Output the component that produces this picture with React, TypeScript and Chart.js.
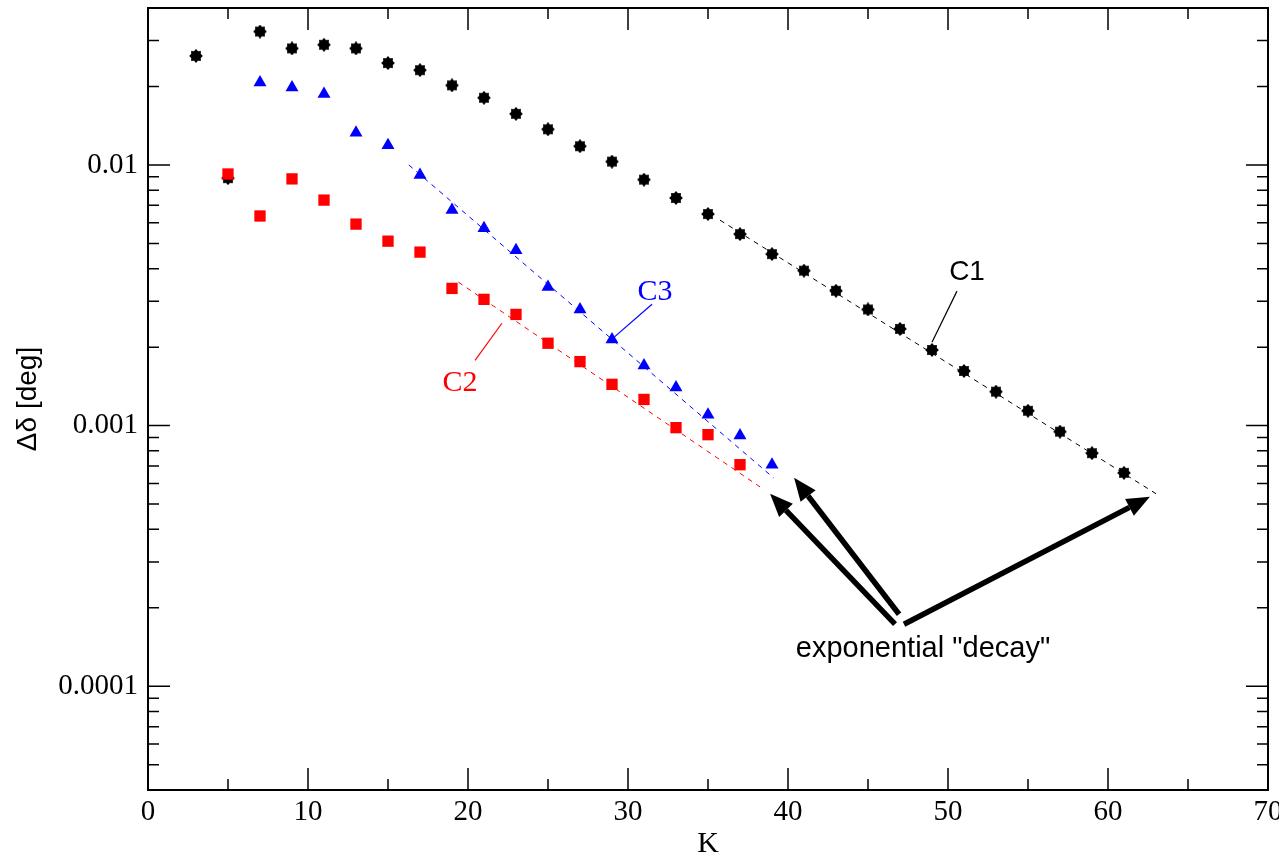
import React, { useEffect, useRef } from 'react';
import { Chart, registerables } from 'chart.js';

Chart.register(...registerables);

// ---------- data ----------
const c1K = [3, 5, 7, 9, 11, 13, 15, 17, 19, 21, 23, 25, 27, 29, 31, 33, 35, 37, 39, 41, 43, 45, 47, 49, 51, 53, 55, 57, 59, 61];
const c1Values = [0.0262, 0.0089, 0.0325, 0.0280, 0.0289, 0.0280, 0.0246, 0.0231, 0.0202, 0.0181, 0.0157, 0.0137, 0.0118, 0.0103, 0.00878, 0.00747, 0.00648, 0.00543, 0.00455, 0.00393, 0.00329, 0.00279, 0.00235, 0.00195, 0.00162, 0.00135, 0.00114, 0.000948, 0.000784, 0.000659];

const c3K = [7, 9, 11, 13, 15, 17, 19, 21, 23, 25, 27, 29, 31, 33, 35, 37, 39];
const c3Values = [0.0207, 0.0198, 0.0187, 0.0133, 0.0119, 0.00915, 0.00672, 0.00572, 0.00471, 0.0034, 0.00279, 0.00214, 0.0017, 0.0014, 0.0011, 0.000916, 0.000708];

const c2K = [5, 7, 9, 11, 13, 15, 17, 19, 21, 23, 25, 27, 29, 31, 33, 35, 37];
const c2Values = [0.00923, 0.00637, 0.00884, 0.00733, 0.00593, 0.0051, 0.00463, 0.00336, 0.00305, 0.00267, 0.00207, 0.00176, 0.00144, 0.00126, 0.000982, 0.000923, 0.000708];

// exponential fits (straight on the log axis)
const fitC1K = [35.75, 63];
const fitC1Values = [0.00614, 0.000548];
const fitC3K = [16.3, 39.1];
const fitC3Values = [0.01, 0.00063];
const fitC2K = [19.4, 38.25];
const fitC2Values = [0.00355, 0.000582];

// ticks
const xTickValues = [0, 10, 20, 30, 40, 50, 60, 70];
const xMinorTickValues = [5, 15, 25, 35, 45, 55, 65];
const yTickValues = [0.0001, 0.001, 0.01];
const yTickLabels = ['0.0001', '0.001', '0.01'];
const yMinorMantissas = [2, 3, 4, 5, 6, 7, 8, 9];
const yDecades = [-5, -4, -3, -2];

// annotations (data coordinates)
const labelTexts = ['C1', 'C2', 'C3', 'exponential "decay"'];
const labelK = [51.19, 19.5, 31.69, 48.44];
const labelV = [0.00388, 0.00146, 0.00325, 0.000139];
const labelColors = ['#000000', '#ff0000', '#0000ff', '#000000'];
const labelFonts = ['28px "Liberation Sans"', '30px "Liberation Serif"', '30px "Liberation Serif"', '29px "Liberation Sans"'];

const leaderFromK = [50.56, 20.44, 31.5];
const leaderFromV = [0.00328, 0.00178, 0.00292];
const leaderToK = [49.0, 22.12, 29.12];
const leaderToV = [0.00209, 0.00247, 0.00218];
const leaderColors = ['#000000', '#ff0000', '#0000ff'];

const arrowFromK = [46.69, 46.94, 47.25];
const arrowFromV = [0.000173, 0.000189, 0.000173];
const arrowToK = [38.88, 40.38, 62.62];
const arrowToV = [0.000548, 0.000631, 0.000533];

function makeStar(): HTMLCanvasElement {
  const c = document.createElement('canvas');
  c.width = 14;
  c.height = 14;
  const g = c.getContext('2d')!;
  g.fillStyle = '#000';
  g.beginPath();
  for (let i = 0; i < 16; i++) {
    const r = i % 2 === 0 ? 6.9 : 5.2;
    const a = (i * Math.PI) / 8;
    const px = 7 + r * Math.cos(a);
    const py = 7 + r * Math.sin(a);
    if (i === 0) g.moveTo(px, py);
    else g.lineTo(px, py);
  }
  g.closePath();
  g.fill();
  return c;
}

const framePlugin = {
  id: 'framePlugin',
  afterDatasetsDraw(chart: any) {
    const { ctx, chartArea: a, scales } = chart;
    const x = scales.x;
    const y = scales.y;
    ctx.save();
    ctx.strokeStyle = '#000';
    ctx.lineWidth = 2;
    ctx.strokeRect(a.left, a.top, a.right - a.left, a.bottom - a.top);

    ctx.lineWidth = 1.5;
    const vline = (px: number, len: number) => {
      ctx.beginPath();
      ctx.moveTo(px, a.bottom);
      ctx.lineTo(px, a.bottom - len);
      ctx.moveTo(px, a.top);
      ctx.lineTo(px, a.top + len);
      ctx.stroke();
    };
    const hline = (py: number, len: number) => {
      ctx.beginPath();
      ctx.moveTo(a.left, py);
      ctx.lineTo(a.left + len, py);
      ctx.moveTo(a.right, py);
      ctx.lineTo(a.right - len, py);
      ctx.stroke();
    };
    xTickValues.forEach((v) => vline(x.getPixelForValue(v), 22));
    xMinorTickValues.forEach((v) => vline(x.getPixelForValue(v), 11));
    yTickValues.forEach((v) => hline(y.getPixelForValue(v), 22));
    yDecades.forEach((e) => {
      yMinorMantissas.forEach((m) => {
        const v = m * Math.pow(10, e);
        if (v > y.min * 1.0001 && v < y.max * 0.9999) hline(y.getPixelForValue(v), 11);
      });
    });

    // leader lines
    ctx.lineWidth = 1.2;
    leaderFromK.forEach((k, i) => {
      ctx.strokeStyle = leaderColors[i];
      ctx.beginPath();
      ctx.moveTo(x.getPixelForValue(k), y.getPixelForValue(leaderFromV[i]));
      ctx.lineTo(x.getPixelForValue(leaderToK[i]), y.getPixelForValue(leaderToV[i]));
      ctx.stroke();
    });

    // arrows
    ctx.strokeStyle = '#000';
    ctx.fillStyle = '#000';
    arrowFromK.forEach((k, i) => {
      const x0 = x.getPixelForValue(k);
      const y0 = y.getPixelForValue(arrowFromV[i]);
      const x1 = x.getPixelForValue(arrowToK[i]);
      const y1 = y.getPixelForValue(arrowToV[i]);
      const ang = Math.atan2(y1 - y0, x1 - x0);
      const headLen = 23;
      const headW = 9.5;
      const bx = x1 - headLen * Math.cos(ang);
      const by = y1 - headLen * Math.sin(ang);
      ctx.lineWidth = 5.5;
      ctx.beginPath();
      ctx.moveTo(x0, y0);
      ctx.lineTo(bx, by);
      ctx.stroke();
      ctx.beginPath();
      ctx.moveTo(x1, y1);
      ctx.lineTo(bx + headW * Math.sin(ang), by - headW * Math.cos(ang));
      ctx.lineTo(bx - headW * Math.sin(ang), by + headW * Math.cos(ang));
      ctx.closePath();
      ctx.fill();
    });

    // labels
    ctx.textAlign = 'center';
    ctx.textBaseline = 'middle';
    labelTexts.forEach((t, i) => {
      ctx.fillStyle = labelColors[i];
      ctx.font = labelFonts[i];
      ctx.fillText(t, x.getPixelForValue(labelK[i]), y.getPixelForValue(labelV[i]));
    });
    ctx.restore();
  },
};

const toPoints = (xs: number[], ys: number[]) => xs.map((v, i) => ({ x: v, y: ys[i] }));

export default function App() {
  const ref = useRef<HTMLCanvasElement | null>(null);

  useEffect(() => {
    if (!ref.current) return;
    const star = makeStar();
    const chart = new Chart(ref.current, {
      type: 'scatter',
      data: {
        datasets: [
          {
            label: 'C2',
            data: toPoints(c2K, c2Values),
            pointStyle: 'rect',
            pointRadius: 8,
            pointBackgroundColor: '#ff0000',
            pointBorderWidth: 0,
            borderColor: '#ff0000',
            order: 0,
          },
          {
            label: 'C3',
            data: toPoints(c3K, c3Values),
            pointStyle: 'triangle',
            pointRadius: 7.5,
            pointBackgroundColor: '#0000ff',
            pointBorderWidth: 0,
            borderColor: '#0000ff',
            order: 1,
          },
          {
            label: 'C1',
            data: toPoints(c1K, c1Values),
            pointStyle: star as any,
            pointRadius: 6,
            pointBackgroundColor: '#000',
            borderColor: '#000',
            order: 2,
          },
          {
            label: 'fit C1',
            data: toPoints(fitC1K, fitC1Values),
            showLine: true,
            pointRadius: 0,
            borderColor: '#000000',
            borderWidth: 1,
            borderDash: [5, 5],
            order: 3,
          },
          {
            label: 'fit C3',
            data: toPoints(fitC3K, fitC3Values),
            showLine: true,
            pointRadius: 0,
            borderColor: '#0000ff',
            borderWidth: 1,
            borderDash: [5, 5],
            order: 3,
          },
          {
            label: 'fit C2',
            data: toPoints(fitC2K, fitC2Values),
            showLine: true,
            pointRadius: 0,
            borderColor: '#ff0000',
            borderWidth: 1,
            borderDash: [5, 5],
            order: 3,
          },
        ],
      },
      options: {
        animation: false,
        responsive: false,
        devicePixelRatio: 1,
        layout: { padding: { top: 8, right: 11, left: 0, bottom: 0 } },
        plugins: { legend: { display: false }, tooltip: { enabled: false } },
        scales: {
          x: {
            type: 'linear',
            min: 0,
            max: 70,
            afterFit: (s: any) => {
              s.height = 69;
              s.paddingLeft = 0;
              s.paddingRight = 0;
              s.paddingTop = 0;
              s.paddingBottom = 0;
            },
            afterBuildTicks: (s: any) => {
              s.ticks = xTickValues.map((v) => ({ value: v }));
            },
            grid: { display: false, drawTicks: false },
            border: { display: false },
            ticks: {
              color: '#000',
              font: { family: 'Liberation Serif', size: 29 },
              padding: 5,
              maxRotation: 0,
              autoSkip: false,
              callback: (v: any) => String(v),
            },
            title: {
              display: true,
              text: 'K',
              color: '#000',
              font: { family: 'Liberation Serif', size: 30, lineHeight: 1 },
              padding: { top: 0, bottom: 0 },
            },
          },
          y: {
            type: 'logarithmic',
            min: 4e-5,
            max: 0.04,
            afterFit: (s: any) => {
              s.width = 148;
              s.paddingLeft = 0;
              s.paddingRight = 0;
              s.paddingTop = 0;
              s.paddingBottom = 0;
            },
            afterBuildTicks: (s: any) => {
              s.ticks = yTickValues.map((v) => ({ value: v }));
            },
            grid: { display: false, drawTicks: false },
            border: { display: false },
            ticks: {
              color: '#000',
              font: { family: 'Liberation Serif', size: 29 },
              padding: 10,
              autoSkip: false,
              callback: (v: any) => {
                const idx = yTickValues.findIndex((t) => Math.abs(t - v) / t < 1e-6);
                return idx >= 0 ? yTickLabels[idx] : '';
              },
            },
            title: {
              display: true,
              text: 'Δδ [deg]',
              color: '#000',
              font: { family: 'Liberation Sans', size: 28, lineHeight: 1 },
              padding: { top: 14, bottom: 0 },
            },
          },
        },
      },
      plugins: [framePlugin],
    });
    return () => chart.destroy();
  }, []);

  return (
    <div style={{ position: 'absolute', left: 0, top: 0, width: 1279, height: 859, background: '#fff' }}>
      <canvas ref={ref} width={1279} height={859} style={{ display: 'block', width: 1279, height: 859 }} />
    </div>
  );
}
